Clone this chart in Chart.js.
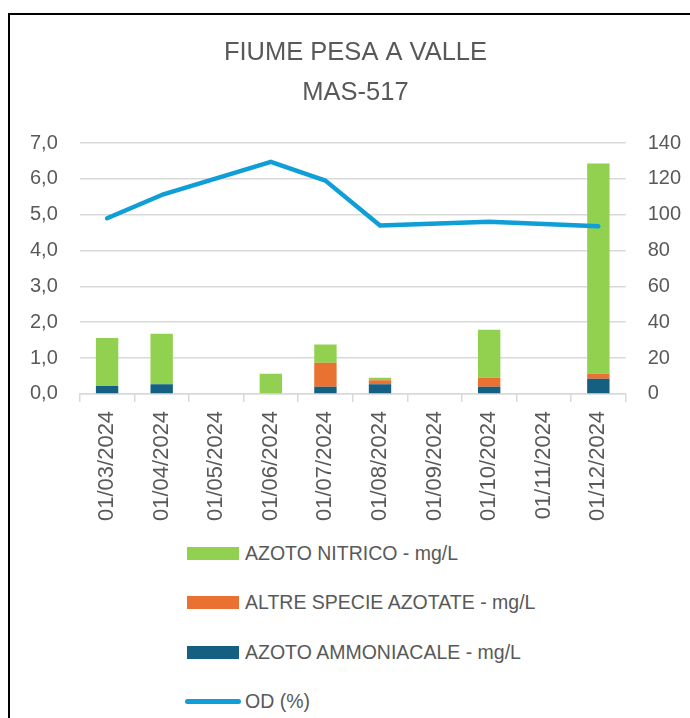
<!DOCTYPE html>
<html>
<head>
<meta charset="utf-8">
<script src="https://cdn.jsdelivr.net/npm/chart.js@4.4.1/dist/chart.umd.min.js"></script>
<style>
    html, body { margin: 0; padding: 0; background: #fff; }
    body { width: 690px; height: 718px; overflow: hidden; position: relative; }
    .frame {
        position: absolute; left: 8px; top: 13px;
        width: 720px; height: 760px;
        border-left: 2px solid #000; border-top: 2px solid #000;
    }
    .chart-box { position: absolute; left: 0px; top: 15px; width: 710px; height: 517px; }
    #legend {
        position: absolute; left: 187px; top: 540px;
        list-style: none; margin: 0; padding: 0;
        font-family: 'Liberation Sans', Arial, sans-serif; font-size: 19.5px; color: #595959;
    }
    #legend li { display: flex; align-items: center; height: 26px; margin-bottom: 23.5px; white-space: nowrap; }
    #legend .swatch { display: inline-block; width: 52px; height: 13px; margin-right: 6px; }
    #legend .swatch.line { height: 5px; border-radius: 3px; width: 56px; margin-left: -2px; margin-right: 4px; }
</style>
</head>
<body>
<div class="frame"></div>
<div class="chart-box"><canvas id="mainChart"></canvas></div>
<ul id="legend"></ul>

<script>
// chart values
const dateLabels = ['01/03/2024', '01/04/2024', '01/05/2024', '01/06/2024', '01/07/2024',
                    '01/08/2024', '01/09/2024', '01/10/2024', '01/11/2024', '01/12/2024'];
const azotoAmmoniacale = [0.22, 0.27, null, 0, 0.20, 0.27, null, 0.20, null, 0.42];
const altreSpecie      = [0, 0, null, 0, 0.67, 0.11, null, 0.25, null, 0.14];
const azotoNitrico     = [1.34, 1.41, null, 0.56, 0.51, 0.07, null, 1.34, null, 5.87];
const odPercent        = [98, 111, null, 129.5, 119, 94, null, 96, null, 93.5];
const leftTicks  = [0, 1, 2, 3, 4, 5, 6, 7];
const rightTicks = [0, 20, 40, 60, 80, 100, 120, 140];

const textGrey = '#595959';
const gridGrey = '#d9d9d9';
const tickFont = { family: "'Liberation Sans', Arial, sans-serif", size: 20 };

// legend built as html list, from the chart's own legend items
const htmlLegend = {
    id: 'htmlLegend',
    afterUpdate(chart) {
        const ul = document.getElementById('legend');
        ul.innerHTML = '';
        const items = chart.options.plugins.legend.labels.generateLabels(chart).slice().reverse();
        items.forEach(function(item) {
            const ds = chart.data.datasets[item.datasetIndex];
            const li = document.createElement('li');
            const sw = document.createElement('span');
            sw.className = ds.type === 'line' ? 'swatch line' : 'swatch';
            sw.style.background = ds.type === 'line' ? ds.borderColor : item.fillStyle;
            li.appendChild(sw);
            li.appendChild(document.createTextNode(item.text));
            ul.appendChild(li);
        });
    }
};

new Chart(document.getElementById('mainChart'), {
    type: 'bar',
    data: {
        labels: dateLabels,
        datasets: [{
            type: 'line',
            label: 'OD (%)',
            data: odPercent,
            yAxisID: 'y1',
            borderColor: '#0f9ed5',
            backgroundColor: '#0f9ed5',
            borderWidth: 4.5,
            borderCapStyle: 'round',
            borderJoinStyle: 'round',
            pointRadius: 0,
            tension: 0,
            spanGaps: true
        }, {
            label: 'AZOTO AMMONIACALE - mg/L',
            data: azotoAmmoniacale,
            backgroundColor: '#156082',
            yAxisID: 'y'
        }, {
            label: 'ALTRE SPECIE AZOTATE - mg/L',
            data: altreSpecie,
            backgroundColor: '#e97132',
            yAxisID: 'y'
        }, {
            label: 'AZOTO NITRICO - mg/L',
            data: azotoNitrico,
            backgroundColor: '#92d050',
            yAxisID: 'y'
        }]
    },
    options: {
        responsive: true,
        maintainAspectRatio: false,
        animation: false,
        datasets: { bar: { categoryPercentage: 1, barPercentage: 0.41 } },
        layout: { padding: { left: 8, right: 7, top: 8, bottom: 2 } },
        plugins: {
            legend: { display: false },
            tooltip: { enabled: false },
            title: {
                display: true,
                text: ['FIUME PESA A VALLE', 'MAS-517'],
                color: textGrey,
                font: { family: "'Liberation Sans', Arial, sans-serif", size: 25.5, weight: 'normal', lineHeight: 40 / 25.5 },
                padding: { top: 10, bottom: 30 }
            }
        },
        scales: {
            x: {
                stacked: true,
                offset: true,
                grid: { display: true, offset: true, drawOnChartArea: false, drawTicks: true, tickLength: 8, color: gridGrey, lineWidth: 1.5 },
                border: { display: true, color: gridGrey, width: 1.5 },
                ticks: { color: textGrey, font: { family: tickFont.family, size: 22 }, minRotation: 90, maxRotation: 90, padding: 9, autoSkip: false }
            },
            y: {
                stacked: true,
                position: 'left',
                min: leftTicks[0],
                max: leftTicks[leftTicks.length - 1],
                afterBuildTicks: function(axis) { axis.ticks = leftTicks.map(function(v) { return { value: v }; }); },
                grid: { color: gridGrey, lineWidth: 1.5, drawTicks: false },
                border: { display: false },
                ticks: {
                    color: textGrey, font: tickFont, padding: 22,
                    callback: function(v) { return v.toFixed(1).replace('.', ','); }
                }
            },
            y1: {
                position: 'right',
                min: rightTicks[0],
                max: rightTicks[rightTicks.length - 1],
                afterBuildTicks: function(axis) { axis.ticks = rightTicks.map(function(v) { return { value: v }; }); },
                grid: { drawOnChartArea: false, drawTicks: false },
                border: { display: false },
                ticks: { color: textGrey, font: tickFont, padding: 22 }
            }
        }
    },
    plugins: [htmlLegend]
});
</script>
</body>
</html>
